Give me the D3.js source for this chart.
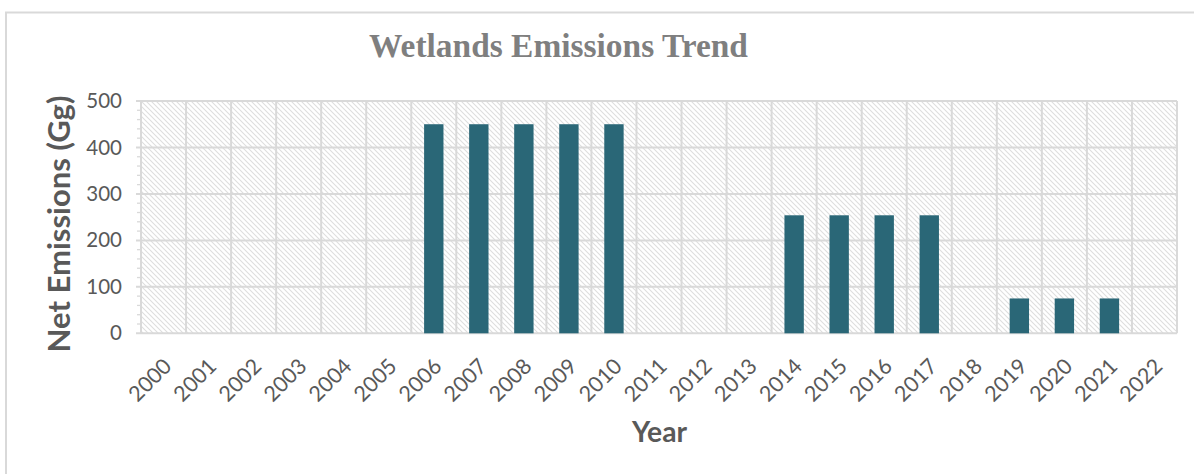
<!DOCTYPE html>
<html>
<head>
<meta charset="utf-8">
<script src="https://cdn.jsdelivr.net/npm/d3@7"></script>
<style>
  html, body { margin: 0; padding: 0; background: #ffffff; }
  svg { display: block; }
</style>
</head>
<body>
<svg id="chart" width="1194" height="474"></svg>
<script>
// ---- data ----
const years = ["2000", "2001", "2002", "2003", "2004", "2005", "2006", "2007",
               "2008", "2009", "2010", "2011", "2012", "2013", "2014", "2015",
               "2016", "2017", "2018", "2019", "2020", "2021", "2022"];
const netEmissions = [0, 0, 0, 0, 0, 0, 450, 450,
                      450, 450, 450, 0, 0, 0, 254, 254,
                      254, 254, 0, 75, 75, 75, 0];
const yTickValues = [0, 100, 200, 300, 400, 500];
const chartTitle = "Wetlands Emissions Trend";
const yAxisTitle = "Net Emissions (Gg)";
const xAxisTitle = "Year";

// ---- layout ----
const plot = { left: 141, right: 1177, top: 101, bottom: 333.3 };
const gridColor = "#d9d9d9";
const textColor = "#595959";
const barColor = "#2a6777";

const svg = d3.select("#chart");

// shrink/grow a text element's font size so it spans a given width
function fitWidth(sel, target) {
  const node = sel.node();
  const size = parseFloat(sel.attr("font-size"));
  const w = node.getComputedTextLength();
  if (w > 0) sel.attr("font-size", (size * target / w).toFixed(2));
}

// outer chart frame
svg.append("rect")
  .attr("x", 6).attr("y", 12.5)
  .attr("width", 1300).attr("height", 600)
  .attr("fill", "#ffffff")
  .attr("stroke", gridColor).attr("stroke-width", 2);

// diagonal hatch fill for the plot area
const defs = svg.append("defs");
const hatch = defs.append("pattern")
  .attr("id", "hatch")
  .attr("patternUnits", "userSpaceOnUse")
  .attr("width", 5).attr("height", 5);
hatch.append("path")
  .attr("d", "M-1,-1L6,6M-1,4L1,6M4,-1L6,1")
  .attr("stroke", "#dedede")
  .attr("stroke-width", 1.1)
  .attr("fill", "none");

// ---- scales ----
const x = d3.scaleBand()
  .domain(years)
  .range([plot.left, plot.right])
  .paddingInner(0.57)
  .paddingOuter(0.285);

const y = d3.scaleLinear()
  .domain([0, 500])
  .range([plot.bottom, plot.top]);

svg.append("rect")
  .attr("x", plot.left).attr("y", plot.top)
  .attr("width", plot.right - plot.left)
  .attr("height", plot.bottom - plot.top)
  .attr("fill", "url(#hatch)");

// ---- gridlines ----
const grid = svg.append("g").attr("stroke", gridColor).attr("stroke-width", 2);

// vertical lines on category boundaries
const step = x.step();
const boundaries = years.map(d => x(d) + x.bandwidth() / 2 - step / 2)
  .concat([x(years[years.length - 1]) + x.bandwidth() / 2 + step / 2]);
grid.selectAll("line.v")
  .data(boundaries)
  .join("line")
  .attr("class", "v")
  .attr("x1", d => d).attr("x2", d => d)
  .attr("y1", plot.top).attr("y2", plot.bottom);

// horizontal lines at each major tick
grid.selectAll("line.h")
  .data(yTickValues)
  .join("line")
  .attr("class", "h")
  .attr("x1", plot.left - 5).attr("x2", plot.right)
  .attr("y1", d => y(d)).attr("y2", d => y(d));

// minor ticks every 20
const minorTicks = d3.range(0, 501, 20).filter(v => v % 100 !== 0);
grid.selectAll("line.m")
  .data(minorTicks)
  .join("line")
  .attr("class", "m")
  .attr("stroke-width", 1.3)
  .attr("x1", plot.left - 4).attr("x2", plot.left)
  .attr("y1", d => y(d)).attr("y2", d => y(d));

// left edge of the plot
grid.append("line")
  .attr("x1", plot.left).attr("x2", plot.left)
  .attr("y1", plot.top).attr("y2", plot.bottom);

// ---- bars ----
const rows = years.map((yr, i) => ({ year: yr, value: netEmissions[i] }));
svg.append("g")
  .selectAll("rect")
  .data(rows.filter(d => d.value > 0))
  .join("rect")
  .attr("x", d => x(d.year))
  .attr("width", x.bandwidth())
  .attr("y", d => y(d.value))
  .attr("height", d => y(0) - y(d.value))
  .attr("fill", barColor);

// ---- axes ----
const yAxis = svg.append("g")
  .attr("transform", `translate(${plot.left},0)`)
  .call(d3.axisLeft(y).tickValues(yTickValues).tickSize(0).tickPadding(19));
yAxis.select(".domain").remove();
yAxis.selectAll("text")
  .attr("font-family", "Lato, 'Open Sans', sans-serif")
  .attr("font-size", 20.5)
  .attr("fill", textColor);

const xAxis = svg.append("g")
  .attr("transform", `translate(0,${plot.bottom})`)
  .call(d3.axisBottom(x).tickSize(0));
xAxis.select(".domain").remove();
xAxis.selectAll("text")
  .attr("font-family", "Lato, 'Open Sans', sans-serif")
  .attr("font-size", 21.5)
  .attr("fill", textColor)
  .attr("text-anchor", "end")
  .attr("x", 0).attr("y", 0).attr("dy", "0.35em")
  .attr("transform", "translate(4,29) rotate(-45)");

// ---- titles ----
const title = svg.append("text")
  .attr("x", 558.5).attr("y", 56.7)
  .attr("text-anchor", "middle")
  .attr("font-family", "'Liberation Serif', 'DejaVu Serif', serif")
  .attr("font-weight", "bold")
  .attr("font-size", 30)
  .attr("fill", "#7f7f7f")
  .attr("xml:space", "preserve")
  .text(chartTitle);
fitWidth(title, 379);

const yTitle = svg.append("text")
  .attr("transform", "translate(69.5,224) rotate(-90)")
  .attr("text-anchor", "middle")
  .attr("font-family", "Lato, 'Open Sans', sans-serif")
  .attr("font-weight", "bold")
  .attr("font-size", 28)
  .attr("fill", textColor)
  .text(yAxisTitle);
fitWidth(yTitle, 257);

const xTitle = svg.append("text")
  .attr("x", 659.5).attr("y", 442)
  .attr("text-anchor", "middle")
  .attr("font-family", "Lato, 'Open Sans', sans-serif")
  .attr("font-weight", "bold")
  .attr("font-size", 28)
  .attr("fill", textColor)
  .text(xAxisTitle);
fitWidth(xTitle, 55);
</script>
</body>
</html>
